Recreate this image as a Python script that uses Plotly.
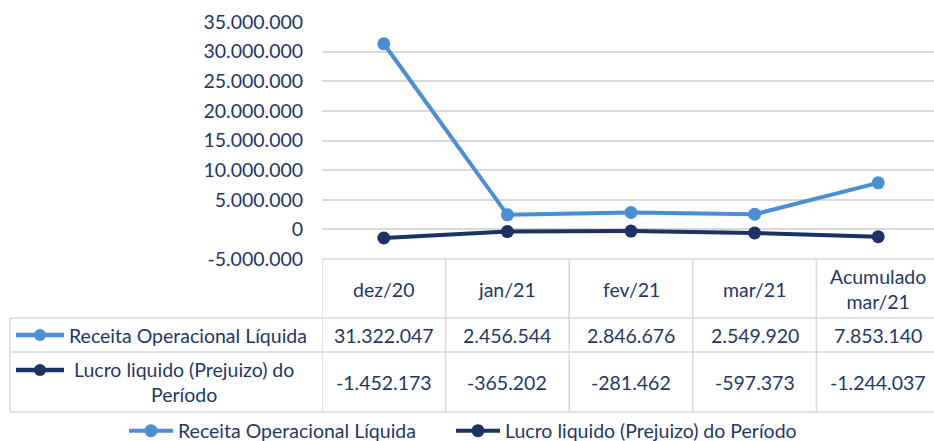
import plotly.graph_objects as go

categories = ["dez/20", "jan/21", "fev/21", "mar/21", "Acumulado<br>mar/21"]
receita = [31322047, 2456544, 2846676, 2549920, 7853140]
lucro = [-1452173, -365202, -281462, -597373, -1244037]
series_names = ["Receita Operacional Líquida", "Lucro liquido (Prejuizo) do Período"]
table_labels = ["Receita Operacional Líquida", "Lucro liquido (Prejuizo) do<br>Período"]
y_ticks = [35000000, 30000000, 25000000, 20000000, 15000000, 10000000, 5000000, 0, -5000000]

COL_LIGHT = "#4A8ED6"
COL_DARK = "#1B3264"
TXT = "#1F3864"
GRID = "#D9D9D9"
FONT = "Lato"
FS = 19.5

W, H = 934, 441
L, T, B = 322, 22, 182
PW = W - L
PH = H - T - B


def fmt(v):
    return f"{v:,}".replace(",", ".")


def X(px):
    return (px - L) / PW


def Y(py):
    return (H - B - py) / PH


xs = list(range(len(categories)))
col_w = 123.6
x_range = [-0.5, -0.5 + PW / col_w]

fig = go.Figure()
fig.add_trace(go.Scatter(x=xs, y=receita, name=series_names[0], mode="lines+markers",
                         line=dict(color=COL_LIGHT, width=4),
                         marker=dict(color=COL_LIGHT, size=13), legend="legend"))
fig.add_trace(go.Scatter(x=xs, y=lucro, name=series_names[1], mode="lines+markers",
                         line=dict(color=COL_DARK, width=4),
                         marker=dict(color=COL_DARK, size=13), legend="legend2"))

shapes = []
annotations = []
line_style = dict(color=GRID, width=1.5)

# horizontal table lines
y_top, y_h, y_r1, y_r2 = 259, 318, 352, 412
shapes.append(dict(type="line", xref="x", yref="paper", x0=-0.5, x1=len(categories) - 0.5,
                   y0=Y(y_top), y1=Y(y_top), line=line_style))
for yy in (y_h, y_r1, y_r2):
    shapes.append(dict(type="line", xref="paper", yref="paper", x0=X(10), x1=1,
                       y0=Y(yy), y1=Y(yy), line=line_style))
# vertical lines
for i in range(len(categories)):
    shapes.append(dict(type="line", xref="x", yref="paper", x0=i - 0.5, x1=i - 0.5,
                       y0=Y(y_top), y1=Y(y_r2), line=line_style))
shapes.append(dict(type="line", xref="paper", yref="paper", x0=X(10), x1=X(10),
                   y0=Y(y_h), y1=Y(y_r2), line=line_style))

# header text
for i, c in enumerate(categories):
    annotations.append(dict(x=i, y=Y(289), xref="x", yref="paper", text=c, showarrow=False,
                            font=dict(family=FONT, size=FS, color=TXT), xanchor="center", yanchor="middle"))
# values
for row_vals, yc in ((receita, 335), (lucro, 382)):
    for i, v in enumerate(row_vals):
        annotations.append(dict(x=i, y=Y(yc), xref="x", yref="paper", text=fmt(v), showarrow=False,
                                font=dict(family=FONT, size=FS, color=TXT), xanchor="center", yanchor="middle"))
# left labels
annotations.append(dict(x=X(67), y=Y(335), xref="paper", yref="paper", text=table_labels[0], showarrow=False,
                        font=dict(family=FONT, size=FS, color=TXT), xanchor="left", yanchor="middle"))
annotations.append(dict(x=X(184), y=Y(382), xref="paper", yref="paper", text=table_labels[1], showarrow=False,
                        font=dict(family=FONT, size=FS, color=TXT), xanchor="center", yanchor="middle",
                        align="center"))
# keys in table
for col, yk in ((COL_LIGHT, 335), (COL_DARK, 370)):
    shapes.append(dict(type="line", xref="paper", yref="paper", x0=X(16), x1=X(64), y0=Y(yk), y1=Y(yk),
                       line=dict(color=col, width=4.5)))
    shapes.append(dict(type="circle", xref="paper", yref="paper", x0=X(34), x1=X(46), y0=Y(yk + 6), y1=Y(yk - 6),
                       fillcolor=col, line=dict(color=col, width=0)))

legend_common = dict(orientation="h", xanchor="left", y=Y(431), yanchor="middle",
                     font=dict(family=FONT, size=FS, color=TXT), bgcolor="rgba(0,0,0,0)",
                     itemwidth=44)

fig.update_layout(
    width=W, height=H,
    margin=dict(l=L, r=0, t=T, b=B, autoexpand=False),
    paper_bgcolor="white", plot_bgcolor="white",
    showlegend=True,
    legend=dict(x=X(124), **legend_common),
    legend2=dict(x=X(451), **legend_common),
    shapes=shapes, annotations=annotations,
    xaxis=dict(range=x_range, showticklabels=False, showgrid=False, zeroline=False, showline=False,
               fixedrange=True, automargin=False),
    yaxis=dict(range=[-5000000, 35000000], tickvals=y_ticks, ticktext=[fmt(v) for v in y_ticks],
               showgrid=True, gridcolor=GRID, gridwidth=1.5, zeroline=True, zerolinecolor=GRID,
               zerolinewidth=1.5, showline=False, ticks="outside", ticklen=14, automargin=False,
               tickcolor="rgba(0,0,0,0)", tickfont=dict(family=FONT, size=FS, color=TXT)),
)

fig.write_html("out.html", config={"displayModeBar": False},
               post_script="document.body.style.margin='0';document.body.style.overflow='hidden';")
